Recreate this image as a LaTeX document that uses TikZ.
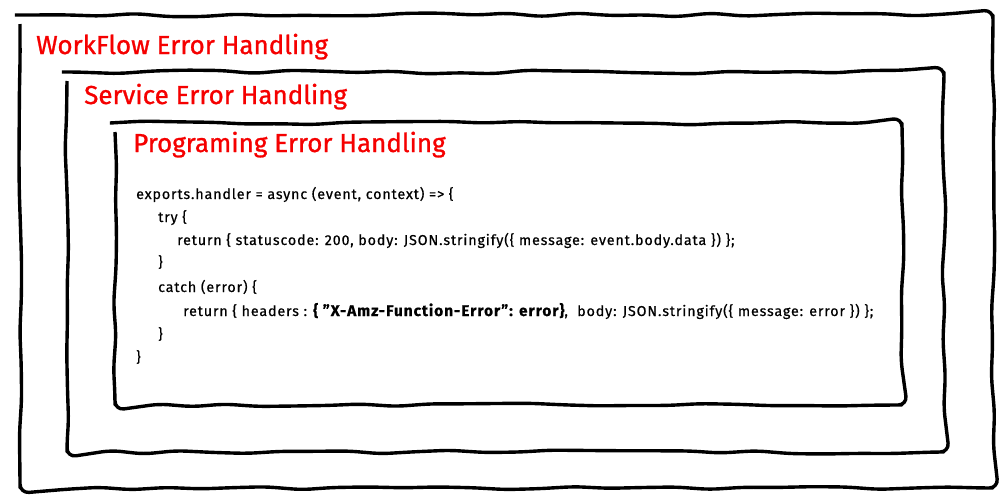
\documentclass[tikz,border=0pt]{standalone}
\usepackage{fontspec}
\setmainfont{Fira Sans}
\usetikzlibrary{decorations.pathmorphing}
\definecolor{errred}{RGB}{245,0,0}

\begin{document}
\begin{tikzpicture}[x=1pt, y=-1pt]
  \tikzset{
    sketchbox/.style={line width=3.4pt, line join=round,
      decorate, decoration={random steps, segment length=34pt, amplitude=2pt},
      rounded corners=9pt},
    boxtitle/.style={anchor=base west, inner sep=0pt, text=errred,
      font=\fontsize{26}{30}\selectfont\addfontfeature{FakeBold=1}},
    codeline/.style={anchor=base west, inner sep=0pt,
      font=\fontsize{14.3}{16}\selectfont\addfontfeature{LetterSpace=6,FakeBold=0.6}}
  }
  \pgfmathsetseed{11}
  \useasboundingbox (0,0) rectangle (1000,498);

  % box corners
  \coordinate (workflow-nw) at (20,15);
  \coordinate (workflow-se) at (993,488);
  \coordinate (service-nw) at (67,72);
  \coordinate (service-se) at (944,452);
  \coordinate (programing-nw) at (115,123);
  \coordinate (programing-se) at (902,405);

  \draw[sketchbox] (workflow-nw) rectangle (workflow-se);
  \draw[sketchbox] (service-nw) rectangle (service-se);
  \draw[sketchbox] (programing-nw) rectangle (programing-se);

  % titles
  \node[boxtitle] (workflow) at (36,54) {WorkFlow Error Handling};
  \node[boxtitle] (service) at (84,104) {Service Error Handling};
  \node[boxtitle] (programing) at (133,152) {Programing Error Handling};

  % handler code
  \node[codeline] (line1) at (136,199) {exports.handler = async (event, context) => \{};
  \node[codeline] (line2) at (158,222) {try \{};
  \node[codeline] (line3) at (177,245) {return \{ statuscode: 200, body: JSON.stringify(\{ message: event.body.data \}) \};};
  \node[codeline] (line4) at (158,267) {\}};
  \node[codeline] (line5) at (158,292) {catch (error) \{};
  \node[codeline] (line6) at (183,316) {return \{ headers : {\fontsize{15.5}{17}\selectfont\bfseries \{ "X-Amz-Function-Error": error\}},\ \ body: JSON.stringify(\{ message: error \}) \};};
  \node[codeline] (line7) at (158,339) {\}};
  \node[codeline] (line8) at (136,362) {\}};
\end{tikzpicture}
\end{document}
